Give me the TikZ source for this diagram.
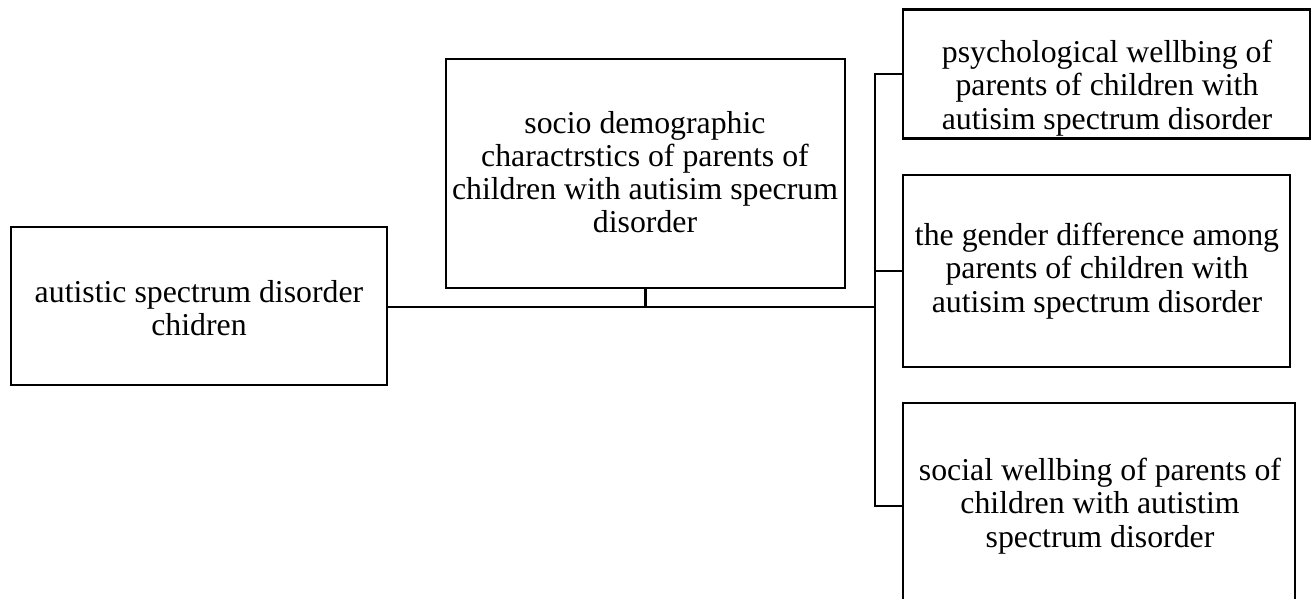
\documentclass[tikz,border=0pt]{standalone}
\usepackage{fontspec}
\setmainfont{Liberation Serif}
\begin{document}
\begin{tikzpicture}[x=1pt,y=-1pt,
  box/.style={draw=black,line width=2.8pt,inner sep=0pt,outer sep=0pt,rectangle},
  txt/.style={align=center,inner sep=0pt,font=\fontsize{31.8}{33.2}\selectfont},
  conn/.style={draw=black,line width=2.8pt}]
\useasboundingbox (0,0) rectangle (1312,598);
\begin{scope}
\clip (0,0) rectangle (1312,598);
% boxes
\node[box,minimum width=376pt,minimum height=158pt] (L) at (199,306) {};
\node[box,minimum width=399pt,minimum height=229pt] (M) at (645.5,173.5) {};
\node[box,minimum width=407pt,minimum height=129pt] (R1) at (1106.5,74) {};
\node[box,minimum width=387pt,minimum height=192pt] (R2) at (1096.5,271) {};
\node[box,minimum width=392pt,minimum height=206pt] (R3) at (1099,506) {};
% texts
\node[txt] (tL) at (199,308) {autistic spectrum disorder\\chidren};
\node[txt] (tM) at (645,172) {socio demographic\\charactrstics of parents of\\children with autisim specrum\\disorder};
\node[txt] (tR1) at (1107,88) {psychological wellbing of\\parents of children with\\autisim spectrum disorder};
\node[txt] (tR2) at (1097,271) {the gender difference among\\parents of children with\\autisim spectrum disorder};
\node[txt] (tR3) at (1100,506) {social wellbing of parents of\\children with autistim\\spectrum disorder};
% connectors
\coordinate (j) at (875,307);
\draw[conn] (L.east |- j) -- (j);
\draw[conn] (M.south) -- (M.south |- j);
\draw[conn,line cap=rect] (j |- R1.west) -- (j |- R3.west);
\draw[conn] (j |- R1.west) -- (R1.west);
\draw[conn] (j |- R2.west) -- (R2.west);
\draw[conn] (j |- R3.west) -- (R3.west);
\end{scope}
\end{tikzpicture}
\end{document}
